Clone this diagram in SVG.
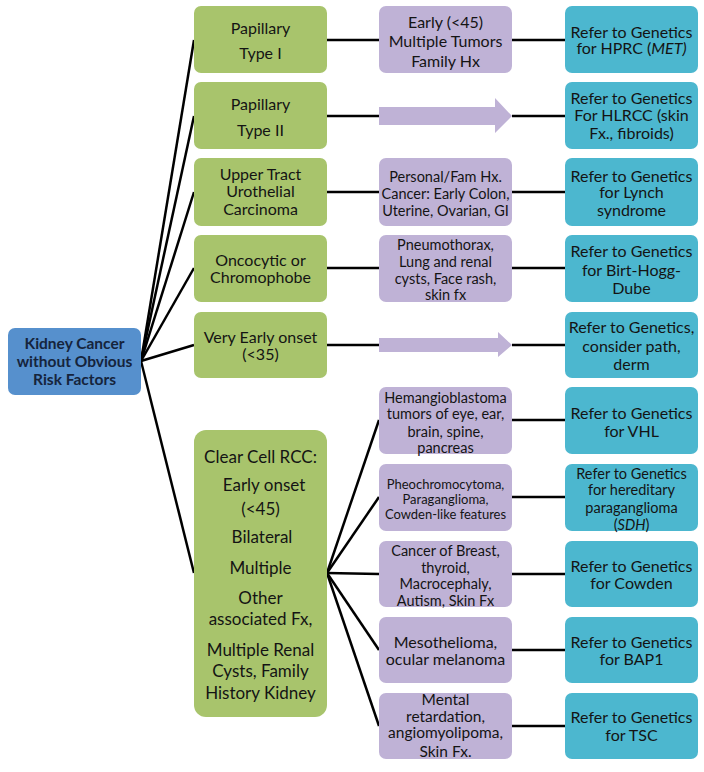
<svg xmlns="http://www.w3.org/2000/svg" width="704" height="772" viewBox="0 0 704 772">
<style>
  .root rect { fill: #5690cd; }
  .gr rect { fill: #a8c46c; }
  .pu rect { fill: #bfb2d6; }
  .bl rect { fill: #4cb7cf; }
  text { font-family: Lato, "Open Sans", "Liberation Sans", sans-serif; fill: #141414; text-anchor: middle; }
  .root text { font-weight: bold; font-size: 15.5px; fill: #15243c; }
  .gr text { font-size: 16px; }
  .pu text { font-size: 14.5px; }
  .bl text { font-size: 16px; }
  .conn line { stroke: #000; stroke-width: 2.5; }
  .arrow { fill: #bfb2d6; }
</style>
<g class="conn">
  <line x1="141" y1="361" x2="194" y2="40"/>
  <line x1="141" y1="361" x2="194" y2="116"/>
  <line x1="141" y1="361" x2="194" y2="192"/>
  <line x1="141" y1="361" x2="194" y2="268"/>
  <line x1="141" y1="361" x2="194" y2="345"/>
  <line x1="141" y1="361" x2="194" y2="573"/>
  <line x1="327" y1="40" x2="379" y2="40"/>
  <line x1="327" y1="116" x2="379" y2="116"/>
  <line x1="327" y1="192" x2="379" y2="192"/>
  <line x1="327" y1="268" x2="379" y2="268"/>
  <line x1="327" y1="345" x2="379" y2="345"/>
  <line x1="512" y1="40" x2="565" y2="40"/>
  <line x1="512" y1="116" x2="565" y2="116"/>
  <line x1="512" y1="192" x2="565" y2="192"/>
  <line x1="512" y1="268" x2="565" y2="268"/>
  <line x1="512" y1="345" x2="565" y2="345"/>
  <line x1="327" y1="573" x2="379" y2="420"/>
  <line x1="327" y1="573" x2="379" y2="497"/>
  <line x1="327" y1="573" x2="379" y2="574"/>
  <line x1="327" y1="573" x2="379" y2="650"/>
  <line x1="327" y1="573" x2="379" y2="726"/>
  <line x1="512" y1="420" x2="565" y2="420"/>
  <line x1="512" y1="497" x2="565" y2="497"/>
  <line x1="512" y1="574" x2="565" y2="574"/>
  <line x1="512" y1="650" x2="565" y2="650"/>
  <line x1="512" y1="726" x2="565" y2="726"/>
</g>
<g id="root" class="root">
  <rect x="8" y="328" width="133" height="67" rx="7"/>
  <text x="74.5" y="349">Kidney Cancer</text>
  <text x="74.5" y="367">without Obvious</text>
  <text x="74.5" y="385">Risk Factors</text>
</g>
<g id="g1" class="gr">
  <rect x="194" y="6" width="133" height="67" rx="7"/>
  <text x="260.5" y="34">Papillary</text>
  <text x="260.5" y="59">Type I</text>
</g>
<g id="g2" class="gr">
  <rect x="194" y="82" width="133" height="67" rx="7"/>
  <text x="260.5" y="110">Papillary</text>
  <text x="260.5" y="136">Type II</text>
</g>
<g id="g3" class="gr">
  <rect x="194" y="158" width="133" height="68" rx="7"/>
  <text x="260.5" y="180">Upper Tract</text>
  <text x="260.5" y="197">Urothelial</text>
  <text x="260.5" y="215">Carcinoma</text>
</g>
<g id="g4" class="gr">
  <rect x="194" y="235" width="133" height="67" rx="7"/>
  <text x="260.5" y="266">Oncocytic or</text>
  <text x="260.5" y="283">Chromophobe</text>
</g>
<g id="g5" class="gr">
  <rect x="194" y="312" width="133" height="66" rx="7"/>
  <text x="260.5" y="343">Very Early onset</text>
  <text x="260.5" y="360">(&lt;35)</text>
</g>
<g id="g6" class="gr">
  <rect x="194" y="430" width="133" height="287" rx="12"/>
  <text x="260.5" y="463" style="font-size:17px">Clear Cell RCC:</text>
  <text x="264" y="491" style="font-size:17px">Early onset</text>
  <text x="260.5" y="515" style="font-size:17px">(&lt;45)</text>
  <text x="262" y="543" style="font-size:17px">Bilateral</text>
  <text x="260.5" y="574" style="font-size:17px">Multiple</text>
  <text x="260.5" y="604" style="font-size:17px">Other</text>
  <text x="260.5" y="625" style="font-size:17px">associated Fx,</text>
  <text x="260.5" y="656" style="font-size:17px">Multiple Renal</text>
  <text x="260.5" y="677" style="font-size:17px">Cysts, Family</text>
  <text x="260.5" y="699" style="font-size:17px">History Kidney</text>
</g>
<g id="p1" class="pu">
  <rect x="379" y="6" width="133" height="67" rx="7"/>
  <text x="445.5" y="27.5" style="font-size:16px">Early (&lt;45)</text>
  <text x="445.5" y="47" style="font-size:16px">Multiple Tumors</text>
  <text x="445.5" y="67" style="font-size:16px">Family Hx</text>
</g>
<g id="a2">
  <polygon class="arrow" points="379,107 495,107 495,98 512,116 495,133 495,125 379,125"/>
</g>
<g id="p3" class="pu">
  <rect x="379" y="158" width="133" height="68" rx="7"/>
  <text x="445.5" y="182">Personal/Fam Hx.</text>
  <text x="445.5" y="199">Cancer: Early Colon,</text>
  <text x="445.5" y="216">Uterine, Ovarian, GI</text>
</g>
<g id="p4" class="pu">
  <rect x="379" y="235" width="133" height="67" rx="7"/>
  <text x="445.5" y="250">Pneumothorax,</text>
  <text x="445.5" y="267">Lung and renal</text>
  <text x="445.5" y="284">cysts, Face rash,</text>
  <text x="445.5" y="300">skin fx</text>
</g>
<g id="a5">
  <polygon class="arrow" points="379,338 498,338 498,332 512,345 498,357 498,352 379,352"/>
</g>
<g id="p6" class="pu">
  <rect x="379" y="387" width="133" height="67" rx="7"/>
  <text x="445.5" y="403">Hemangioblastoma</text>
  <text x="445.5" y="419">tumors of eye, ear,</text>
  <text x="445.5" y="437">brain, spine,</text>
  <text x="445.5" y="453">pancreas</text>
</g>
<g id="p7" class="pu">
  <rect x="379" y="464" width="133" height="67" rx="7"/>
  <text x="445.5" y="489" style="font-size:13px">Pheochromocytoma,</text>
  <text x="445.5" y="504" style="font-size:13px">Paraganglioma,</text>
  <text x="445.5" y="519" style="font-size:13px">Cowden-like features</text>
</g>
<g id="p8" class="pu">
  <rect x="379" y="541" width="133" height="66" rx="7"/>
  <text x="445.5" y="556">Cancer of Breast,</text>
  <text x="445.5" y="573">thyroid,</text>
  <text x="445.5" y="589">Macrocephaly,</text>
  <text x="445.5" y="606">Autism, Skin Fx</text>
</g>
<g id="p9" class="pu">
  <rect x="379" y="617" width="133" height="66" rx="7"/>
  <text x="445.5" y="648" style="font-size:16px">Mesothelioma,</text>
  <text x="445.5" y="665" style="font-size:16px">ocular melanoma</text>
</g>
<g id="p10" class="pu">
  <rect x="379" y="693" width="133" height="66" rx="7"/>
  <text x="445.5" y="705" style="font-size:15.5px">Mental</text>
  <text x="445.5" y="722" style="font-size:15.5px">retardation,</text>
  <text x="445.5" y="738" style="font-size:15.5px">angiomyolipoma,</text>
  <text x="445.5" y="757" style="font-size:15.5px">Skin Fx.</text>
</g>
<g id="b1" class="bl">
  <rect x="565" y="6" width="133" height="67" rx="7"/>
  <text x="631.5" y="37.5">Refer to Genetics</text>
  <text x="631.5" y="54">for HPRC (<tspan font-style="italic">MET)</tspan></text>
</g>
<g id="b2" class="bl">
  <rect x="565" y="82" width="133" height="67" rx="7"/>
  <text x="631.5" y="104">Refer to Genetics</text>
  <text x="631.5" y="121">For HLRCC (skin</text>
  <text x="631.5" y="139">Fx., fibroids)</text>
</g>
<g id="b3" class="bl">
  <rect x="565" y="158" width="133" height="68" rx="7"/>
  <text x="631.5" y="182">Refer to Genetics</text>
  <text x="631.5" y="198">for Lynch</text>
  <text x="631.5" y="216">syndrome</text>
</g>
<g id="b4" class="bl">
  <rect x="565" y="235" width="133" height="67" rx="7"/>
  <text x="631.5" y="257">Refer to Genetics</text>
  <text x="631.5" y="276">for Birt-Hogg-</text>
  <text x="631.5" y="294">Dube</text>
</g>
<g id="b5" class="bl">
  <rect x="565" y="312" width="133" height="66" rx="7"/>
  <text x="631.5" y="333">Refer to Genetics,</text>
  <text x="631.5" y="352">consider path,</text>
  <text x="631.5" y="370">derm</text>
</g>
<g id="b6" class="bl">
  <rect x="565" y="387" width="133" height="67" rx="7"/>
  <text x="631.5" y="419">Refer to Genetics</text>
  <text x="631.5" y="437">for VHL</text>
</g>
<g id="b7" class="bl">
  <rect x="565" y="464" width="133" height="67" rx="7"/>
  <text x="631.5" y="479" style="font-size:14.5px">Refer to Genetics</text>
  <text x="631.5" y="495" style="font-size:14.5px">for hereditary</text>
  <text x="631.5" y="513" style="font-size:14.5px">paraganglioma</text>
  <text x="631.5" y="530" style="font-size:14.5px">(<tspan font-style="italic">SDH</tspan>)</text>
</g>
<g id="b8" class="bl">
  <rect x="565" y="541" width="133" height="66" rx="7"/>
  <text x="631.5" y="572">Refer to Genetics</text>
  <text x="631.5" y="589">for Cowden</text>
</g>
<g id="b9" class="bl">
  <rect x="565" y="617" width="133" height="66" rx="7"/>
  <text x="631.5" y="648">Refer to Genetics</text>
  <text x="631.5" y="665">for BAP1</text>
</g>
<g id="b10" class="bl">
  <rect x="565" y="693" width="133" height="66" rx="7"/>
  <text x="631.5" y="723">Refer to Genetics</text>
  <text x="631.5" y="741">for TSC</text>
</g>
</svg>
